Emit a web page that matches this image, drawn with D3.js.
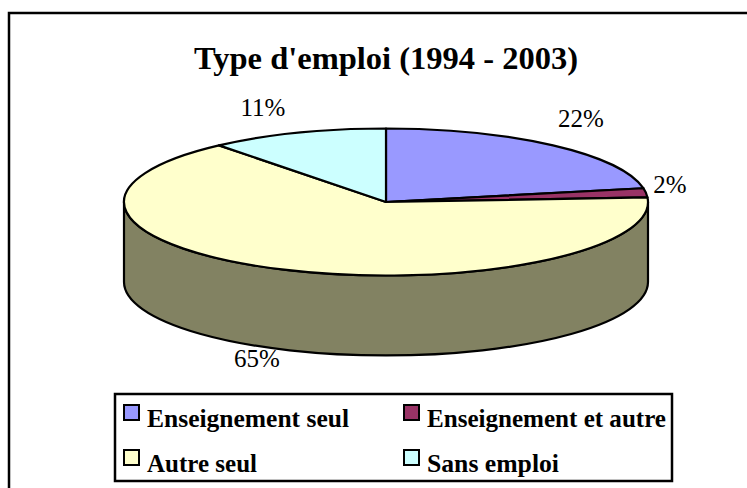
<!DOCTYPE html>
<html lang="fr">
<head>
<meta charset="UTF-8">
<title>Type d'emploi (1994 - 2003)</title>
<script src="https://cdn.jsdelivr.net/npm/d3@7"></script>
<style>
    body { margin: 0; padding: 0; background: #fff; }
    svg { display: block; }
    text { font-family: "Liberation Serif", "Times New Roman", serif; fill: #000; }
</style>
</head>
<body>
<svg id="chart" width="747" height="488"></svg>
<script>
    // Data
    var categories = ["Enseignement seul", "Enseignement et autre", "Autre seul", "Sans emploi"];
    var values = [22, 2, 65, 11];
    var labels = ["22%", "2%", "65%", "11%"];
    var colors = ["#9999ff", "#993366", "#ffffcc", "#ccffff"];

    var svg = d3.select("#chart");

    // outer frame (runs off the right and bottom edge)
    svg.append("rect")
        .attr("x", 9).attr("y", 13)
        .attr("width", 760).attr("height", 500)
        .attr("fill", "none").attr("stroke", "#000").attr("stroke-width", 2.5);

    svg.append("text")
        .attr("x", 386).attr("y", 69)
        .attr("text-anchor", "middle")
        .attr("font-size", 31).attr("font-weight", "bold")
        .attr("textLength", 384).attr("lengthAdjust", "spacingAndGlyphs")
        .text("Type d'emploi (1994 - 2003)");

    // 3D pie geometry
    var cx = 386, cy = 202, rx = 262, ry = 73.5, depth = 80;

    var pie = d3.pie().sort(null).value(function(d) { return d; });
    var slices = pie(values);

    function pt(a, dy) {
        return [cx + rx * Math.sin(a), cy - ry * Math.cos(a) + (dy || 0)];
    }

    var g = svg.append("g");

    // side walls: only the front half (angles PI/2 .. 3PI/2) is visible
    slices.forEach(function(s, i) {
        var a0 = Math.max(s.startAngle, Math.PI / 2);
        var a1 = Math.min(s.endAngle, 3 * Math.PI / 2);
        if (a1 <= a0) return;
        var p0 = pt(a0), p1 = pt(a1), q1 = pt(a1, depth), q0 = pt(a0, depth);
        var large = (a1 - a0) > Math.PI ? 1 : 0;
        var d = "M" + p0 + "A" + rx + "," + ry + " 0 " + large + " 1 " + p1 +
                "L" + q1 + "A" + rx + "," + ry + " 0 " + large + " 0 " + q0 + "Z";
        var c = d3.color(colors[i]);
        g.append("path")
            .attr("d", d)
            .attr("fill", d3.rgb(c.r * 0.51, c.g * 0.51, c.b * 0.48))
            .attr("stroke", "#000").attr("stroke-width", 2.2)
            .attr("stroke-linejoin", "round");
    });

    // top faces: circular arcs squashed into an ellipse
    var arc = d3.arc().innerRadius(0).outerRadius(rx);
    g.append("g")
        .attr("transform", "translate(" + cx + "," + cy + ") scale(1," + (ry / rx) + ")")
        .selectAll("path")
        .data(slices)
        .enter()
        .append("path")
            .attr("d", arc)
            .attr("fill", function(d, i) { return colors[i]; })
            .attr("stroke", "#000")
            .attr("stroke-width", 2.2)
            .attr("stroke-linejoin", "round")
            .attr("vector-effect", "non-scaling-stroke");

    // percentage labels
    var labelPos = [[581, 127], [670, 193], [257, 367], [263, 116]];
    svg.selectAll(".pct")
        .data(labels)
        .enter()
        .append("text")
            .attr("class", "pct")
            .attr("x", function(d, i) { return labelPos[i][0]; })
            .attr("y", function(d, i) { return labelPos[i][1]; })
            .attr("text-anchor", "middle")
            .attr("font-size", 25)
            .text(function(d) { return d; });

    // legend
    svg.append("rect")
        .attr("x", 115).attr("y", 394)
        .attr("width", 557).attr("height", 87)
        .attr("fill", "#fff").attr("stroke", "#000").attr("stroke-width", 2.5);

    var legendPos = [[124, 405], [404, 405], [124, 450], [404, 450]];
    var legendLen = [202, 239, 110, 132];
    var items = svg.selectAll(".leg")
        .data(categories)
        .enter()
        .append("g")
            .attr("class", "leg")
            .attr("transform", function(d, i) { return "translate(" + legendPos[i] + ")"; });

    items.append("rect")
        .attr("width", 15).attr("height", 15)
        .attr("fill", function(d, i) { return colors[i]; })
        .attr("stroke", "#000").attr("stroke-width", 2);

    items.append("text")
        .attr("x", 23).attr("y", 22)
        .attr("font-size", 25).attr("font-weight", "bold")
        .attr("textLength", function(d, i) { return legendLen[i]; })
        .attr("lengthAdjust", "spacingAndGlyphs")
        .text(function(d) { return d; });
</script>
</body>
</html>
